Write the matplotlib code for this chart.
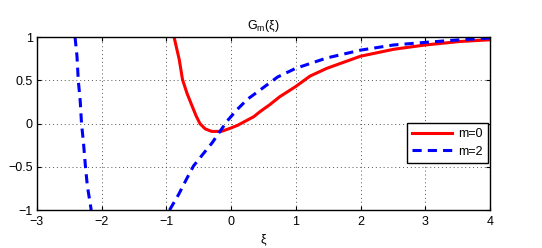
import numpy as np
import matplotlib
matplotlib.use("Agg")
import matplotlib.pyplot as plt

# m=0 curve (red, solid)
xi_m0 = [-0.88, -0.80, -0.75, -0.68, -0.60, -0.54, -0.48, -0.40, -0.30, -0.15, 0.0, 0.10,
         0.35, 0.45, 0.60, 0.75, 1.0, 1.22, 1.48, 2.0, 2.51, 3.0, 3.53, 4.0]
g_m0 = [1.0, 0.74, 0.51, 0.35, 0.20, 0.09, 0.0, -0.06, -0.09, -0.09, -0.05, -0.02,
        0.08, 0.14, 0.22, 0.31, 0.43, 0.55, 0.64, 0.78, 0.86, 0.91, 0.95, 0.97]

# m=2 curve (blue, dashed) - left branch
xi_m2_left = [-2.41, -2.38, -2.36, -2.33, -2.31, -2.28, -2.25, -2.22, -2.16]
g_m2_left = [1.0, 0.78, 0.50, 0.26, 0.0, -0.22, -0.49, -0.72, -1.0]

# m=2 curve (blue, dashed) - right branch
xi_m2_right = [-0.95, -0.81, -0.68, -0.58, -0.42, -0.29, -0.19, -0.06, 0.09, 0.25, 0.45,
               0.72, 1.0, 1.48, 2.0, 2.51, 3.0, 3.53, 4.0]
g_m2_right = [-1.0, -0.82, -0.63, -0.49, -0.34, -0.22, -0.11, 0.03, 0.16, 0.28, 0.39,
              0.54, 0.64, 0.76, 0.85, 0.91, 0.94, 0.97, 0.99]

x_ticks = [-3, -2, -1, 0, 1, 2, 3, 4]
y_ticks = [-1, -0.5, 0, 0.5, 1]
y_ticklabels = ["\u22121", "\u22120.5", "0", "0.5", "1"]

plt.rcParams['font.family'] = ['Liberation Sans', 'DejaVu Sans']
plt.rcParams['mathtext.fontset'] = 'custom'
plt.rcParams['mathtext.rm'] = 'Liberation Sans'
plt.rcParams['mathtext.it'] = 'Liberation Sans'

fig = plt.figure(figsize=(5.42, 2.48), dpi=100)
ax = fig.add_axes([0.068, 0.153, 0.836, 0.697])

ax.plot(xi_m0, g_m0, color='#ff0000', lw=2.2, solid_joinstyle='round', label='m=0')
ax.plot(xi_m2_left, g_m2_left, color='#0000ff', lw=2.2, dashes=(3, 2.0), label='m=2')
ax.plot(xi_m2_right, g_m2_right, color='#0000ff', lw=2.2, dashes=(3, 2.0))

ax.set_xlim(-3, 4)
ax.set_ylim(-1, 1)
ax.set_xticks(x_ticks)
ax.set_xticklabels([("\u2212" + str(-t)) if t < 0 else str(t) for t in x_ticks])
ax.set_yticks(y_ticks)
ax.set_yticklabels(y_ticklabels)
ax.tick_params(direction='in', top=True, right=True, labelsize=9, length=3, width=0.8)
ax.tick_params(axis='x', pad=4)
ax.tick_params(axis='y', pad=3)
ax.grid(True, linestyle=(0, (1, 3)), color='#555555', linewidth=0.7)
for s in ax.spines.values():
    s.set_linewidth(1.0)

ax.set_title("G$_\\mathrm{m}$(\u03be)", fontsize=9, pad=6)
ax.set_xlabel("\u03be", fontsize=9, labelpad=4)

leg = ax.legend(loc='upper right', bbox_to_anchor=(0.996, 0.504), fontsize=9, frameon=True,
                fancybox=False, edgecolor='black', framealpha=1, handlelength=3.2,
                borderpad=0.4, labelspacing=0.45, handletextpad=0.5, borderaxespad=0.0)
leg.get_frame().set_linewidth(1.0)

fig.savefig('out.png', dpi=100)
